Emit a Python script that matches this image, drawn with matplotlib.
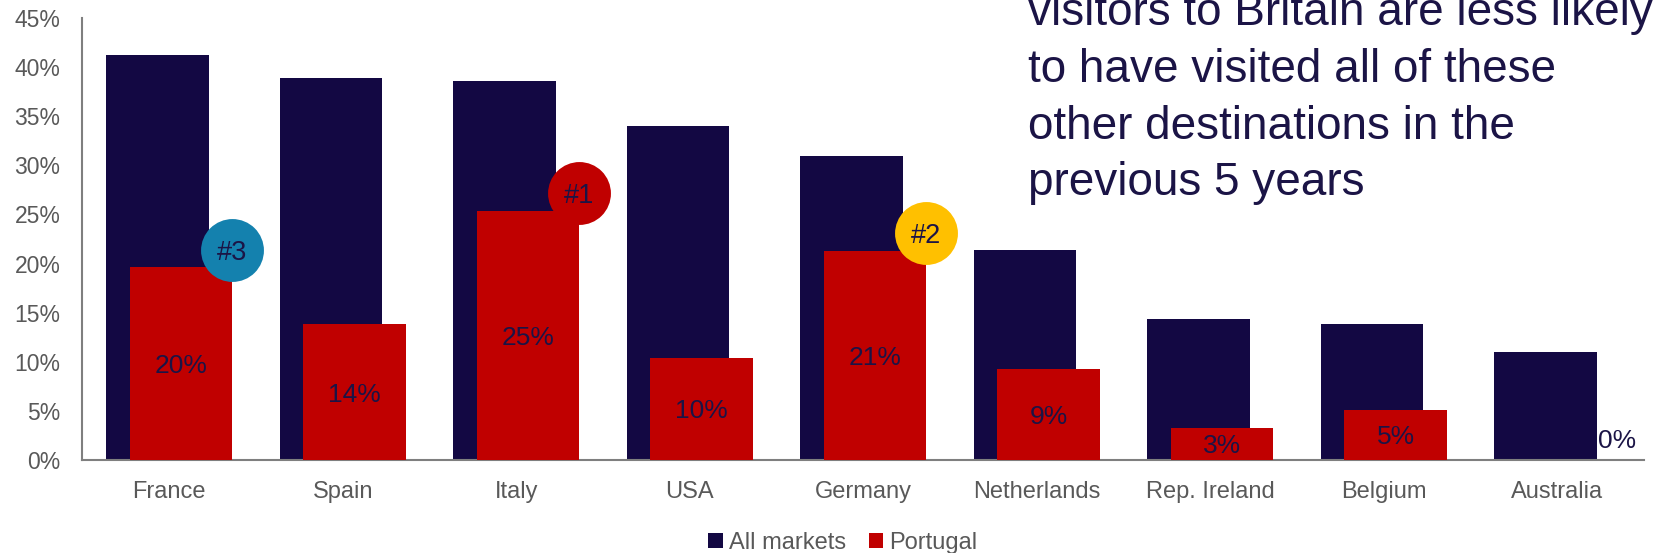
import matplotlib
matplotlib.use("Agg")
import matplotlib.pyplot as plt
import numpy as np

categories = ["France", "Spain", "Italy", "USA", "Germany", "Netherlands",
              "Rep. Ireland", "Belgium", "Australia"]
all_markets = [41.2, 38.9, 38.6, 34.0, 30.9, 21.4, 14.4, 13.8, 11.0]
portugal = [19.6, 13.8, 25.4, 10.4, 21.3, 9.3, 3.3, 5.1, 0.0]
portugal_labels = ["20%", "14%", "25%", "10%", "21%", "9%", "3%", "5%", "0%"]
yticks = [0, 5, 10, 15, 20, 25, 30, 35, 40, 45]
ytick_labels = ["0%", "5%", "10%", "15%", "20%", "25%", "30%", "35%", "40%", "45%"]
badge_index = [0, 2, 4]
badge_text = ["#3", "#1", "#2"]
badge_colors = ["#1481AE", "#C00000", "#FFC000"]
title_lines = ["visitors to Britain are less likely",
               "to have visited all of these",
               "other destinations in the",
               "previous 5 years"]

NAVY = "#130843"
RED = "#C00000"
TXT = "#1B1446"
GRAY = "#595959"

plt.rcParams['font.family'] = ['Liberation Sans', 'DejaVu Sans']

W, H = 1658, 553
fig = plt.figure(figsize=(W / 100, H / 100), dpi=100)
ax = fig.add_axes([82.5 / W, 1 - 460 / H, (1644 - 82.5) / W, (460 - 18) / H])

x = np.arange(len(categories))
bw = 0.59
off = 0.068
ax.bar(x - off, all_markets, bw, color=NAVY, label="All markets", zorder=2)
ax.bar(x + off, portugal, bw, color=RED, label="Portugal", zorder=3)

for i, (v, lab) in enumerate(zip(portugal, portugal_labels)):
    if v > 0:
        ax.text(x[i] + off, v / 2, lab, ha="center", va="center_baseline",
                fontsize=19, color=TXT, zorder=5)
    else:
        ax.annotate(lab, (x[i] - off + bw / 2, 0), xytext=(1, 14),
                    textcoords="offset points", ha="left", va="center",
                    fontsize=19, color=TXT, zorder=5)

for idx, t, c in zip(badge_index, badge_text, badge_colors):
    bx = x[idx] + off + bw / 2
    by = portugal[idx] + 1.8
    ax.scatter([bx], [by], s=2050, color=c, zorder=6, linewidths=0,
               clip_on=False)
    ax.text(bx, by, t, ha="center", va="center_baseline", fontsize=19.5,
            color=TXT, zorder=7)

ax.set_xlim(-0.5, len(categories) - 0.5)
ax.set_ylim(0, 45)
ax.set_yticks(yticks)
ax.set_yticklabels(ytick_labels, fontsize=16.5, color=GRAY)
ax.set_xticks(x)
ax.set_xticklabels(categories, fontsize=17, color=GRAY)
ax.tick_params(axis="both", length=0)
ax.tick_params(axis="x", pad=15)
ax.tick_params(axis="y", pad=16)
for s in ["top", "right"]:
    ax.spines[s].set_visible(False)
for s in ["left", "bottom"]:
    ax.spines[s].set_color("#7F7F7F")
    ax.spines[s].set_linewidth(1.5)

fig.legend(loc="center", bbox_to_anchor=(843 / W, 1 - 543 / H), ncol=2,
           frameon=False, fontsize=17, handlelength=0.6, handleheight=0.6,
           handletextpad=0.25, columnspacing=1.0, labelcolor=GRAY,
           borderpad=0)

baselines = [25, 82, 139, 195]
for line, b in zip(title_lines, baselines):
    fig.text(1028 / W, 1 - b / H, line, ha="left", va="baseline",
             fontsize=33, color=TXT)

fig.savefig("out.png", dpi=100)
